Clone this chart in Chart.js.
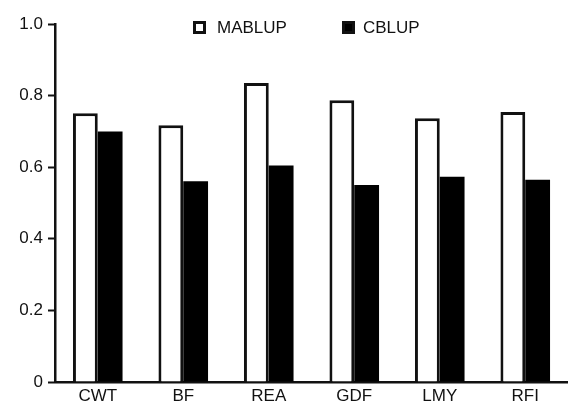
<!DOCTYPE html>
<html>
<head>
<meta charset="utf-8">
<script src="https://cdn.jsdelivr.net/npm/chart.js@4"></script>
<style>
    html, body { margin: 0; padding: 0; background: #fff; }
    #chart { display: block; }
</style>
</head>
<body>
<canvas id="chart" width="568" height="403"></canvas>
<script>
// Chart data
const traits = ['CWT', 'BF', 'REA', 'GDF', 'LMY', 'RFI'];
const mablup = [0.751, 0.717, 0.835, 0.787, 0.737, 0.754];
const cblup = [0.700, 0.561, 0.605, 0.550, 0.573, 0.565];
const yTicks = [0, 0.2, 0.4, 0.6, 0.8, 1.0];

const FONT = 'Liberation Sans, Arial, sans-serif';
const INK = '#111';

// Legend drawn inside the plot, like the original figure
const insideLegend = {
    id: 'insideLegend',
    afterDraw(chart) {
        const ctx = chart.ctx;
        const spots = [{ x: 193, y: 21, gap: 24 }, { x: 342, y: 21, gap: 21 }];
        ctx.save();
        ctx.font = '17px ' + FONT;
        ctx.textBaseline = 'middle';
        chart.data.datasets.forEach((ds, i) => {
            const p = spots[i];
            ctx.fillStyle = ds.backgroundColor;
            ctx.fillRect(p.x, p.y, 13, 13);
            ctx.strokeStyle = INK;
            ctx.lineWidth = 3;
            ctx.strokeRect(p.x + 1.5, p.y + 1.5, 10, 10);
            ctx.fillStyle = INK;
            ctx.fillText(ds.label, p.x + p.gap, p.y + 7);
        });
        ctx.restore();
    }
};

new Chart(document.getElementById('chart'), {
    type: 'bar',
    data: {
        labels: traits,
        datasets: [{
            label: 'MABLUP',
            data: mablup,
            backgroundColor: '#ffffff',
            borderColor: INK,
            borderWidth: 3,
            borderSkipped: 'bottom'
        }, {
            label: 'CBLUP',
            data: cblup,
            backgroundColor: '#000000',
            borderColor: '#000000',
            borderWidth: 0
        }]
    },
    options: {
        responsive: false,
        animation: false,
        devicePixelRatio: 1,
        layout: { padding: { top: 24, right: 0, left: 0, bottom: 0 } },
        datasets: {
            bar: { categoryPercentage: 0.58, barPercentage: 1.0 }
        },
        plugins: {
            legend: { display: false },
            tooltip: { enabled: false }
        },
        scales: {
            x: {
                grid: { display: true, drawOnChartArea: false, drawTicks: false },
                border: { display: true, color: INK, width: 2.5 },
                ticks: {
                    color: INK,
                    padding: 4,
                    font: { family: FONT, size: 17 }
                },
                afterFit(scale) { scale.height = 21; }
            },
            y: {
                min: 0,
                max: 1,
                afterBuildTicks(scale) {
                    scale.ticks = yTicks.map(v => ({ value: v }));
                },
                grid: {
                    display: true,
                    drawOnChartArea: false,
                    drawTicks: true,
                    tickLength: 7,
                    tickWidth: 2,
                    tickColor: INK
                },
                border: { display: true, color: INK, width: 2.5 },
                ticks: {
                    color: INK,
                    padding: 5,
                    font: { family: FONT, size: 17 },
                    callback: v => (v === 0 ? '0' : v.toFixed(1))
                },
                afterFit(scale) { scale.width = 55; }
            }
        }
    },
    plugins: [insideLegend]
});
</script>
</body>
</html>
